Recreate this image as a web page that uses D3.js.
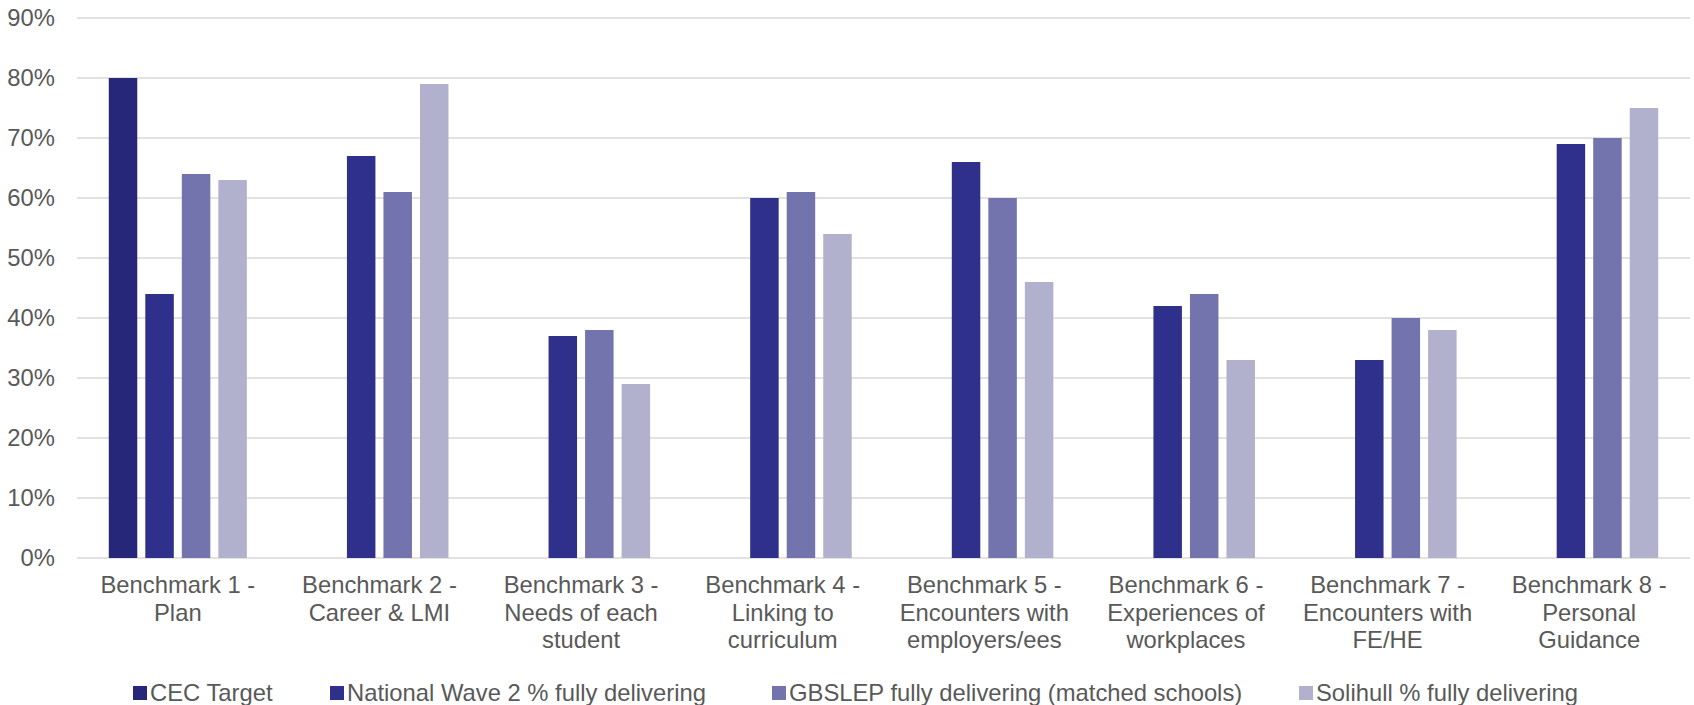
<!DOCTYPE html>
<html lang="en">
<head>
<meta charset="UTF-8">
<title>Benchmarks</title>
<script src="https://d3js.org/d3.v7.min.js"></script>
<style>
  body { margin: 0; background: #fff; }
  text { font-family: "Liberation Sans", Arial, sans-serif; fill: #595959; }
</style>
</head>
<body>
<script>
// data
var categories = [
  ["Benchmark 1 -", "Plan"],
  ["Benchmark 2 -", "Career & LMI"],
  ["Benchmark 3 -", "Needs of each", "student"],
  ["Benchmark 4 -", "Linking to", "curriculum"],
  ["Benchmark 5 -", "Encounters with", "employers/ees"],
  ["Benchmark 6 -", "Experiences of", "workplaces"],
  ["Benchmark 7 -", "Encounters with", "FE/HE"],
  ["Benchmark 8 -", "Personal", "Guidance"]
];
var seriesNames = ["CEC Target", "National Wave 2 % fully delivering", "GBSLEP fully delivering (matched schools)", "Solihull % fully delivering"];
var cecTarget = [80, null, null, null, null, null, null, null];
var nationalWave2 = [44, 67, 37, 60, 66, 42, 33, 69];
var gbslep = [64, 61, 38, 61, 60, 44, 40, 70];
var solihull = [63, 79, 29, 54, 46, 33, 38, 75];
var yTicks = [0, 10, 20, 30, 40, 50, 60, 70, 80, 90];
var colors = ["#27277a", "#2f2f8c", "#7373ad", "#b1b1cd"];

var allSeries = [cecTarget, nationalWave2, gbslep, solihull];
var width = 1694, height = 705;
var margin = {top: 18, right: 4, bottom: 147, left: 77};
var fontSize = "23.8px";

var svg = d3.select("body").append("svg").attr("width", width).attr("height", height);

var x0 = d3.scaleBand().domain(d3.range(categories.length))
  .range([margin.left, width - margin.right]).paddingInner(0).paddingOuter(0);
var x1 = d3.scaleBand().domain(d3.range(seriesNames.length))
  .range([0, x0.bandwidth()]).paddingInner(0.22).paddingOuter(0.87);
var y = d3.scaleLinear().domain([0, 90]).range([height - margin.bottom, margin.top]);

// gridlines
svg.append("g").selectAll("line").data(yTicks).enter().append("line")
  .attr("x1", margin.left).attr("x2", width - margin.right)
  .attr("y1", function(d){ return y(d); }).attr("y2", function(d){ return y(d); })
  .attr("stroke", "#d9d9d9").attr("stroke-width", 1.5);

// y axis labels
var yAxis = d3.axisLeft(y).tickValues(yTicks).tickSize(0).tickPadding(22)
  .tickFormat(function(d){ return d + "%"; });
var gy = svg.append("g").attr("transform", "translate(" + margin.left + ",0)").call(yAxis);
gy.select(".domain").remove();
gy.selectAll("text").attr("font-size", fontSize).attr("font-family", "Liberation Sans, Arial, sans-serif").attr("fill", "#595959");

// bars
allSeries.forEach(function(vals, s){
  svg.append("g").attr("fill", colors[s]).selectAll("rect")
    .data(vals.map(function(v, i){ return {i: i, v: v}; }).filter(function(d){ return d.v != null; }))
    .enter().append("rect")
    .attr("x", function(d){ return x0(d.i) + x1(s); })
    .attr("width", x1.bandwidth())
    .attr("y", function(d){ return y(d.v); })
    .attr("height", function(d){ return y(0) - y(d.v); });
});

// category labels
var cat = svg.append("g").selectAll("text").data(categories).enter().append("text")
  .attr("text-anchor", "middle").attr("font-size", fontSize)
  .attr("transform", function(d, i){ return "translate(" + (x0(i) + x0.bandwidth() / 2) + "," + (y(0) + 35) + ")"; });
cat.selectAll("tspan").data(function(d){ return d; }).enter().append("tspan")
  .attr("x", 0).attr("y", function(d, j){ return j * 27.5; })
  .text(function(d){ return d; });

// legend
var legendX = [133, 330, 772, 1299];
var lg = svg.append("g").selectAll("g").data(seriesNames).enter().append("g")
  .attr("transform", function(d, i){ return "translate(" + legendX[i] + ",693)"; });
lg.append("rect").attr("x", 0).attr("y", -7).attr("width", 14).attr("height", 14)
  .attr("fill", function(d, i){ return colors[i]; });
lg.append("text").attr("x", 17).attr("y", 7.5).attr("font-size", fontSize)
  .text(function(d){ return d; });
</script>
</body>
</html>
